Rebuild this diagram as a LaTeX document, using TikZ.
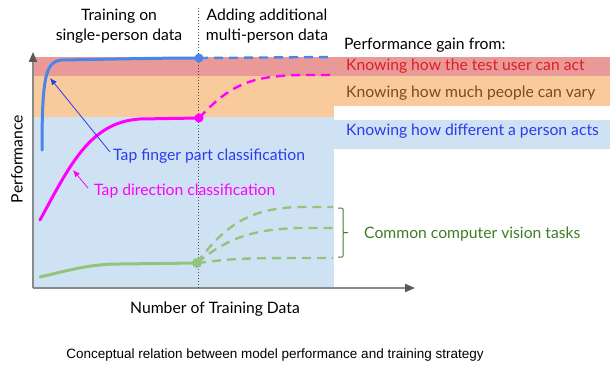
\documentclass[tikz,border=0pt]{standalone}
\usepackage{fontspec}
\setmainfont{Lato}
\newfontfamily\captionfont{Liberation Sans}
\usetikzlibrary{arrows,arrows.meta,positioning,calc}

\definecolor{bandred}{HTML}{EA9999}
\definecolor{bandorange}{HTML}{F9CB9C}
\definecolor{bandblue}{HTML}{CFE2F3}
\definecolor{curveblue}{HTML}{4A86E8}
\definecolor{curvegreen}{HTML}{93C47D}
\definecolor{curvepink}{HTML}{FF00FF}
\definecolor{textblue}{HTML}{2B3BEE}
\definecolor{textred}{HTML}{DD1F26}
\definecolor{textbrown}{HTML}{7F4A16}
\definecolor{textgreen}{HTML}{3F7D26}
\definecolor{axisgray}{HTML}{8A8A8A}

\begin{document}
\begin{tikzpicture}[x=1pt,y=-1pt]
        \tikzstyle{every node}=[font=\fontsize{15.7}{20}\selectfont,inner sep=0pt]
        \tikzstyle{curve}=[line width=3pt,line cap=round]
        \tikzstyle{future}=[line width=2.4pt,dash pattern=on 9pt off 6pt]
        \tikzstyle{pointer}=[-{Latex[length=7pt,width=6pt]},line width=0.8pt]
        \tikzstyle{axis}=[axisgray,line width=2pt,-{Triangle[length=10pt,width=8pt,color=black!65]}]
        \useasboundingbox (0,0) rectangle (610,369);

        %%% Bands
        \fill[bandblue] (33,117) rectangle (334,288);
        \fill[bandblue] (334,120) rectangle (610,149);
        \fill[bandorange] (33,76) rectangle (334,117);
        \fill[bandorange] (334,76) rectangle (610,106);
        \fill[bandred] (33,57) rectangle (610,76);

        %%% Axes
        \coordinate (origin) at (33,288);
        \coordinate (ytop) at (33,52);
        \coordinate (xend) at (415,288);
        \draw[axis] (origin) -- (ytop);
        \draw[axis] (origin) -- (xend);

        %%% Switch point
        \coordinate (splittop) at (198,8);
        \coordinate (splitbot) at (198,288);
        \draw[black!70,dotted,line width=1pt] (splittop) -- (splitbot);

        %%% Curves
        \coordinate (bstart) at (42,150);
        \coordinate (bdot) at (199,58);
        \coordinate (bend) at (333,57);
        \coordinate (mstart) at (40,220);
        \coordinate (mdot) at (199,118);
        \coordinate (mend) at (333,75);
        \coordinate (gstart) at (40,277);
        \coordinate (gdot) at (197,263);
        \coordinate (gtop) at (333,207);
        \coordinate (gmid) at (333,228);
        \coordinate (gbot) at (333,258);

        \draw[curve,curveblue] (bstart) .. controls (42,75) and (46,61) .. (62,60) .. controls (120,59) and (160,58) .. (bdot);
        \draw[future,curveblue] (bdot) -- (bend);
        \fill[curveblue] (bdot) circle (4.5);

        \draw[curve,curvepink] (mstart) .. controls (70,165) and (90,122) .. (140,119) -- (mdot);
        \draw[future,curvepink] (mdot) .. controls (230,85) and (250,76) .. (300,75) -- (mend);
        \fill[curvepink] (mdot) circle (4.5);

        \draw[curve,curvegreen] (gstart) .. controls (70,270) and (90,264) .. (120,264) -- (gdot);
        \draw[future,curvegreen] (gdot) .. controls (225,225) and (250,208) .. (300,207) -- (gtop);
        \draw[future,curvegreen] (gdot) .. controls (225,240) and (250,229) .. (300,228) -- (gmid);
        \draw[future,curvegreen] (gdot) .. controls (240,258) .. (gbot);
        \fill[curvegreen] (gdot) circle (5);

        %%% Labels
        \node[align=center] (single) at (119,26) {Training on\\single-person data};
        \node[align=center] (multi) at (267,26) {Adding additional\\multi-person data};
        \node[anchor=west] (gain) at (344,45) {Performance gain from:};
        \node[anchor=west,textred] (testuser) at (346,66) {Knowing how the test user can act};
        \node[anchor=west,textbrown] (vary) at (346,93) {Knowing how much people can vary};
        \node[anchor=west,textblue] (differ) at (346,131) {Knowing how different a person acts};

        \node[anchor=west,textblue] (fingerpart) at (113,156) {Tap finger part classification};
        \node[anchor=west,curvepink] (direction) at (94,191) {Tap direction classification};
        \coordinate (fingertip) at (50,78);
        \coordinate (dirtip) at (73,170);
        \coordinate (fingerfrom) at ($(fingerpart.west)+(-3,-4)$);
        \coordinate (dirfrom) at ($(direction.west)+(-6,-3)$);
        \draw[pointer,textblue] (fingerfrom) -- (fingertip);
        \draw[pointer,curvepink] (dirfrom) -- (dirtip);

        \node[anchor=west,textgreen] (cvtasks) at (364,234) {Common computer vision tasks};
        \coordinate (bracetop) at (338,208);
        \coordinate (bracebot) at (338,257);
        \draw[textgreen,line width=1pt,rounded corners=1pt] (bracetop) -- ++(5,0) -- ++(0,24.5) -- ++(6,0) -- ++(-6,0) -- ++(0,24.5) -- (bracebot);

        \node[rotate=90] (ylabel) at (17,159) {Performance};
        \node (xlabel) at (215,309) {Number of Training Data};

        \node[font=\captionfont\fontsize{13.5}{16}\selectfont] (caption) at (275,355) {Conceptual relation between model performance and training strategy};
\end{tikzpicture}
\end{document}
